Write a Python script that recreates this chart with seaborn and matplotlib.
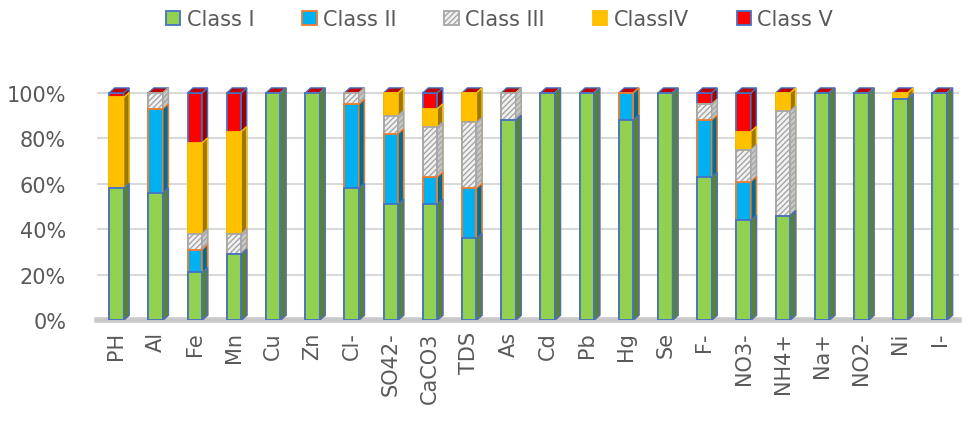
import numpy as np
import pandas as pd
import seaborn as sns
import matplotlib
matplotlib.use("Agg")
import matplotlib.pyplot as plt
import matplotlib.colors as mcolors
from matplotlib.patches import Polygon, Patch

# Share (%) of samples in each water-quality class, per parameter
params = ["PH", "Al", "Fe", "Mn", "Cu", "Zn", "Cl-", "SO42-", "CaCO3", "TDS", "As",
          "Cd", "Pb", "Hg", "Se", "F-", "NO3-", "NH4+", "Na+", "NO2-", "Ni", "I-"]
class_1 = [58, 56, 21, 29, 100, 100, 58, 51, 51, 36, 88, 100, 100, 88, 100, 63, 44, 46, 100, 100, 97.5, 100]
class_2 = [0, 37, 10, 0, 0, 0, 37, 31, 12, 22, 0, 0, 0, 12, 0, 25, 17, 0, 0, 0, 0, 0]
class_3 = [0, 7, 7, 9, 0, 0, 5, 8, 22, 29, 12, 0, 0, 0, 0, 7, 14, 46, 0, 0, 0, 0]
class_4 = [40, 0, 40, 45, 0, 0, 0, 10, 8, 13, 0, 0, 0, 0, 0, 0, 8, 8, 0, 0, 2.5, 0]
class_5 = [2, 0, 22, 17, 0, 0, 0, 0, 7, 0, 0, 0, 0, 0, 0, 5, 17, 0, 0, 0, 0, 0]
class_names = ["Class I", "Class II", "Class III", "ClassIV", "Class V"]
y_ticks = [0, 20, 40, 60, 80, 100]

# fill, edge, hatch for each class
styles = [
    ("#92D050", "#4472C4", None),
    ("#00B0F0", "#ED7D31", None),
    ("#F2F2F2", "#A6A6A6", "//////"),
    ("#FFC000", "#FFC000", None),
    ("#FF0000", "#4472C4", None),
]

df = pd.DataFrame({"param": params, "c1": class_1, "c2": class_2, "c3": class_3,
                   "c4": class_4, "c5": class_5})
cols = ["c1", "c2", "c3", "c4", "c5"]
cum = df[cols].cumsum(axis=1)

sns.set_style("white")
fig = plt.figure(figsize=(9.68, 4.27), dpi=100)
ax = fig.add_axes([0.100, 0.248, 0.891, 0.548])

bar_w = 0.37
dx, dy = 0.14, 2.2  # depth offset of the pseudo-3D side faces


def darker(c, f=0.62):
    r, g, b = mcolors.to_rgb(c)
    return (r * f, g * f, b * f)


# Draw cumulative bars from the top class down so lower classes overlay them
for k in range(4, -1, -1):
    face, edge, hatch = styles[k]
    n0 = len(ax.patches)
    sns.barplot(x=df["param"], y=cum[cols[k]], color=face, saturation=1,
                width=bar_w, edgecolor=edge, linewidth=1.3, ax=ax,
                zorder=3 + (4 - k) * 2)
    new = ax.patches[n0:]
    for p in new:
        if hatch:
            p.set_hatch(hatch)
        x0, w, h = p.get_x(), p.get_width(), p.get_height()
        side_col = "#C8C8C8" if hatch else darker(face)
        side = Polygon([(x0 + w, 0), (x0 + w + dx, dy), (x0 + w + dx, h + dy), (x0 + w, h)],
                       closed=True, facecolor=side_col, edgecolor=edge, linewidth=1.0,
                       hatch=hatch, zorder=3 + (4 - k) * 2)
        ax.add_patch(side)
        if k == 4:
            top = Polygon([(x0, h), (x0 + dx, h + dy), (x0 + w + dx, h + dy), (x0 + w, h)],
                          closed=True, facecolor="#C00000", edgecolor=edge, linewidth=1.0,
                          zorder=3)
            ax.add_patch(top)

ax.set_xlim(-0.5, len(params) - 0.5)
ax.set_ylim(0, 103)
ax.set_yticks(y_ticks)
ax.set_yticklabels([f"{v}%" for v in y_ticks])
ax.set_xlabel("")
ax.set_ylabel("")
ax.tick_params(axis="both", length=0, labelsize=15, labelcolor="#595959")
ax.tick_params(axis="x", rotation=90, pad=8)
ax.tick_params(axis="y", pad=22)
ax.yaxis.grid(True, color="#D9D9D9", linewidth=1.5, zorder=0)
ax.set_axisbelow(True)
for s in ["left", "right", "top"]:
    ax.spines[s].set_visible(False)
ax.spines["bottom"].set_color("#C8C8C8")
ax.spines["bottom"].set_linewidth(4)

handles = [Patch(facecolor=f, edgecolor=e, hatch=h, linewidth=1.3) for f, e, h in styles]
leg = fig.legend(handles, class_names, loc="upper center", bbox_to_anchor=(0.516, 1.02),
                 ncol=5, frameon=False, fontsize=15, handlelength=0.7, handleheight=0.7,
                 handletextpad=0.3, columnspacing=2.3)
for t in leg.get_texts():
    t.set_color("#595959")

fig.savefig("out.png", dpi=100)
